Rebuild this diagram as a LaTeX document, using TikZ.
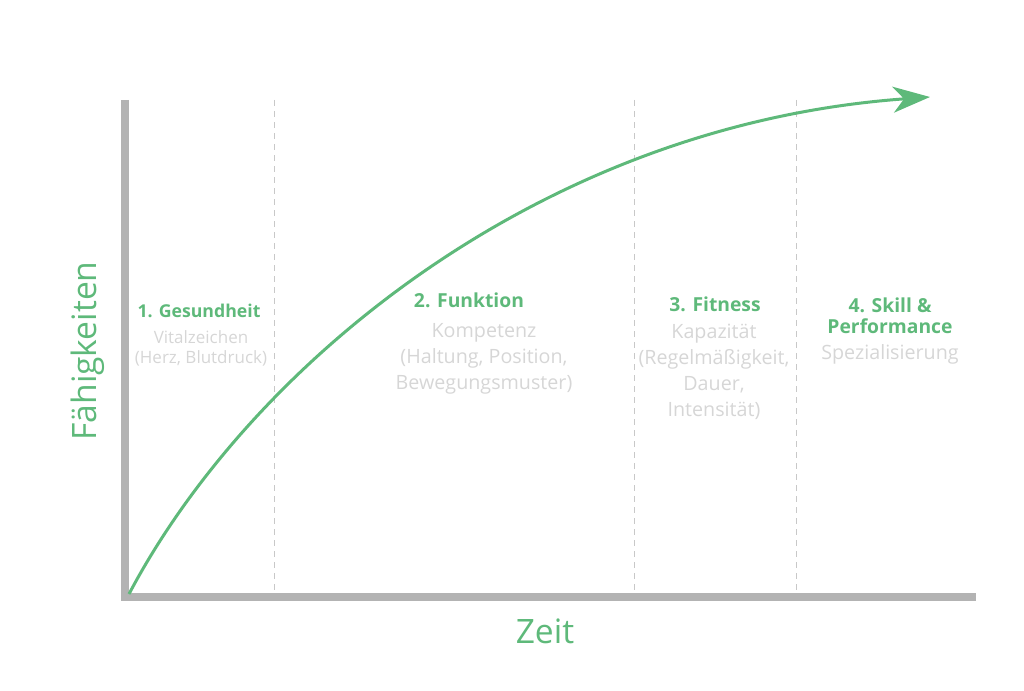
\documentclass[tikz,border=0pt]{standalone}
\usepackage{fontspec}
\setmainfont{Open Sans}
\usetikzlibrary{arrows.meta}
\definecolor{curvegreen}{RGB}{94,185,122}
\definecolor{axisgray}{RGB}{179,179,179}
\definecolor{textgray}{RGB}{214,214,214}
\definecolor{dashgray}{RGB}{200,200,200}
\tikzset{%
  tipA/.tip={Stealth[length=37pt,width=26pt,inset=11pt]},
  phase/.style={text=curvegreen, font=\bfseries\fontsize{19.3}{21}\selectfont, align=center, inner sep=0pt},
  detail/.style={text=textgray, font=\fontsize{19.7}{26}\selectfont, align=center, inner sep=0pt, anchor=north},
  divider/.style={dashgray, dashed, dash pattern=on 6pt off 5pt, line width=0.8pt}
}

\begin{document}
\begin{tikzpicture}[x=1pt,y=-1pt]
\useasboundingbox (0,0) rectangle (1024,690);
\coordinate (top) at (125,100);
\coordinate (origin) at (125,597);
\coordinate (right) at (976,597);
\coordinate (start) at (129,594);
\coordinate (tip) at (930,97);
% phase borders
\draw[divider] (274,100) -- (274,597);
\draw[divider] (634,100) -- (634,597);
\draw[divider] (796,100) -- (796,597);
% axes
\draw[axisgray, line width=8pt] (top) -- (origin) -- (right);
\node (ylabel) at (88,351) [rotate=90, text=curvegreen, font=\fontsize{33.6}{38}\selectfont] {Fähigkeiten};
\node (xlabel) at (545,631) [text=curvegreen, font=\fontsize{33.6}{38}\selectfont] {Zeit};
% growth curve
\draw[curvegreen, line width=3pt, -tipA] (start) .. controls (250,365) and (540,125) .. (tip);
% phases
\node[phase, font=\bfseries\fontsize{17.7}{20}\selectfont] (gesund) at (199,311) {1. Gesundheit};
\node[detail, font=\fontsize{17}{20}\selectfont] (gesundtext) at (201,330) {Vitalzeichen\\(Herz, Blutdruck)};
\node[phase] (funktion) at (469,300) {2. Funktion};
\node[detail] (funktiontext) at (484,323.5) {Kompetenz\\(Haltung, Position,\\Bewegungsmuster)};
\node[phase] (fitness) at (715,304) {3. Fitness};
\node[detail] (fitnesstext) at (714,323.5) {Kapazität\\(Regelmäßigkeit,\\Dauer,\\Intensität)};
\node[phase] (skill) at (890,316) {4. Skill \&\\Performance};
\node[detail] (skilltext) at (890,344.5) {Spezialisierung};
\end{tikzpicture}
\end{document}
